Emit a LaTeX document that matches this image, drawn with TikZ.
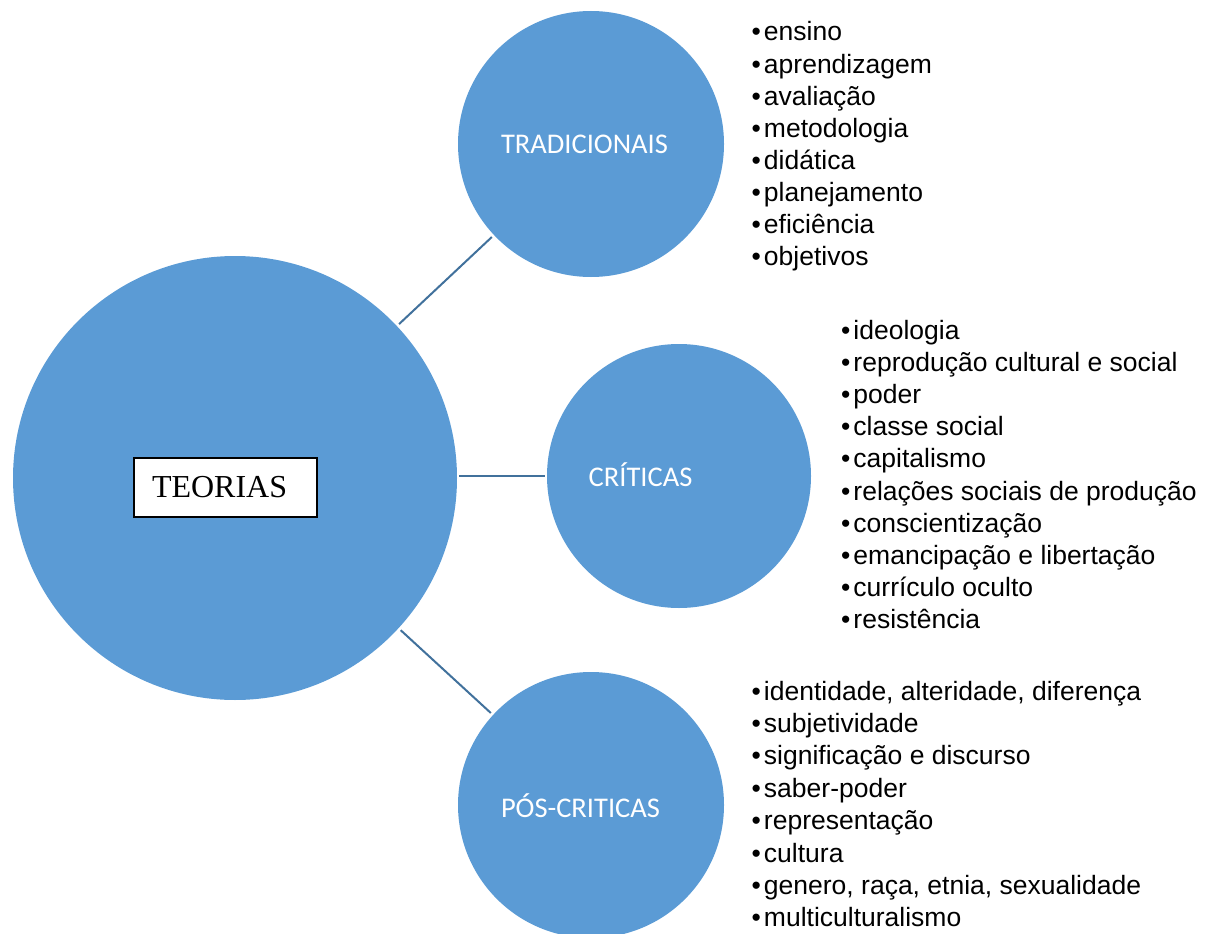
\documentclass[tikz,border=0pt]{standalone}
\usepackage{fontspec}
\setmainfont{Liberation Sans}
\newfontfamily\labelfont{Carlito}
\newfontfamily\boxfont{Liberation Serif}
\definecolor{bubblefill}{HTML}{5B9BD5}
\definecolor{linkcol}{HTML}{41719C}

\begin{document}
\begin{tikzpicture}[x=1pt,y=-1pt,
  bubble/.style={circle, fill=bubblefill, inner sep=0pt, outer sep=0pt},
  link/.style={draw=linkcol, line width=2pt, shorten <=3pt, shorten >=3pt},
  tag/.style={font=\labelfont\fontsize{28.5}{30}\selectfont, text=white, inner sep=0pt},
  item/.style={font=\fontsize{26.5}{32}\selectfont, anchor=base west, inner sep=0pt}]
\useasboundingbox (0,0) rectangle (1211,934);

% bubbles
\node[bubble, minimum size=444pt] (teo) at (235,478) {};
\node[bubble, minimum size=266pt] (trad) at (591,144) {};
\node[bubble, minimum size=264pt] (crit) at (679,476) {};
\node[bubble, minimum size=266pt] (pos) at (591,805) {};

% bubble labels
\node[tag] (tradlbl) at (584.5,144) {TRADICIONAIS};
\node[tag] (critlbl) at (640.5,475) {CRÍTICAS};
\node[tag] (poslbl) at (580.5,806) {PÓS-CRITICAS};

% central box
\node[draw=black, fill=white, line width=1.2pt, minimum width=183pt, minimum height=59pt,
      inner sep=0pt, font=\boxfont\fontsize{32}{34}\selectfont] (box) at (225.5,487.5)
      {\makebox[181pt][l]{\hspace{17pt}TEORIAS}};

% connectors
\draw[link] (teo) -- (trad);
\draw[link, shorten <=2pt, shorten >=2pt] (crit.west -| teo.east) -- (crit.west);
\draw[link] (teo) -- (pos);

% item lists
\foreach \t [count=\i from 0] in {ensino, aprendizagem, avaliação, metodologia, didática,
    planejamento, eficiência, objetivos}
  \node[item] (ta\i) at (751.5, 41+32.1*\i) {•\hspace{3pt}\t};

\foreach \t [count=\i from 0] in {ideologia, reprodução cultural e social, poder, classe social,
    capitalismo, relações sociais de produção, conscientização, emancipação e libertação,
    currículo oculto, resistência}
  \node[item] (ca\i) at (841, 339+32.2*\i) {•\hspace{3pt}\t};

\foreach \t [count=\i from 0] in {{identidade, alteridade, diferença}, subjetividade,
    significação e discurso, saber-poder, representação, cultura,
    {genero, raça, etnia, sexualidade}, multiculturalismo}
  \node[item] (pa\i) at (751.5, 700+32.4*\i) {•\hspace{3pt}\t};
\end{tikzpicture}
\end{document}
